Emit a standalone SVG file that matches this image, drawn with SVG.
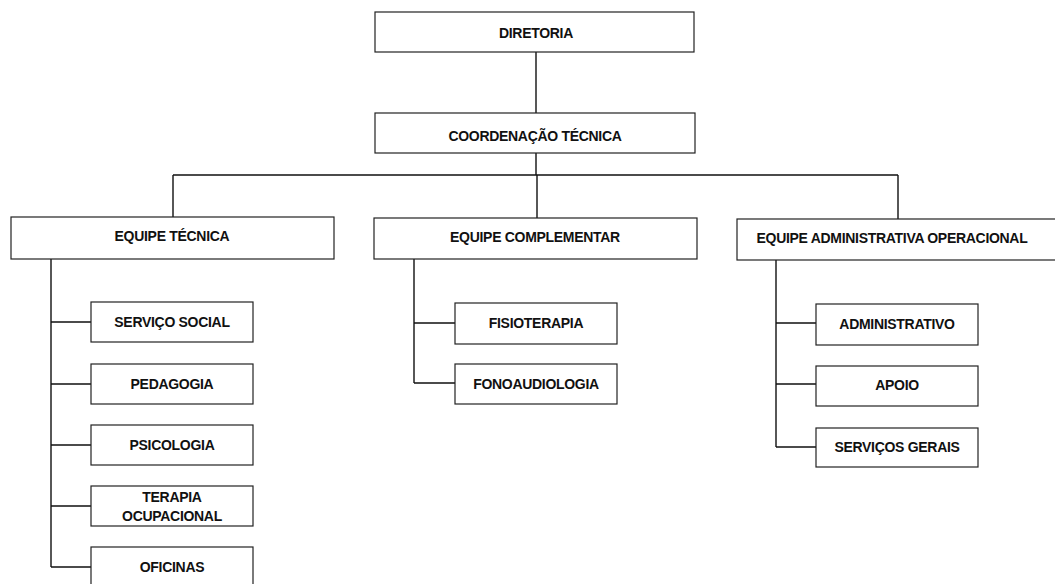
<svg xmlns="http://www.w3.org/2000/svg" width="1055" height="584" viewBox="0 0 1055 584">
<style>
.box{fill:#fff;stroke:#222;stroke-width:1.2}
.t{font-family:"Liberation Sans",Arial,sans-serif;font-weight:bold;font-size:14px;fill:#111;text-anchor:middle;letter-spacing:-0.3px}
.c{fill:none;stroke:#111;stroke-width:1.4}
</style>
<rect width="1055" height="584" fill="#fff"/>
<g id="connectors">
<path class="c" d="M536 52V113"/>
<path class="c" d="M536 153V175M173 175H898M173 175V217M537 175V218M898 175V219"/>
<path class="c" d="M51 259V567M51 322H91M51 384H91M51 445H91M51 506H91M51 567H91"/>
<path class="c" d="M414 259V383M414 323H455M414 383H455"/>
<path class="c" d="M776 260V447M776 323H816M776 384H816M776 447H816"/>
</g>
<g id="diretoria"><rect class="box" x="375" y="12" width="319" height="40"/><text class="t" x="536" y="38">DIRETORIA</text></g>
<g id="coordenacao"><rect class="box" x="375" y="113" width="320" height="40"/><text class="t" x="535" y="141">COORDENAÇÃO TÉCNICA</text></g>
<g id="equipe-tecnica"><rect class="box" x="11" y="217" width="323" height="42"/><text class="t" x="172" y="241">EQUIPE TÉCNICA</text></g>
<g id="equipe-complementar"><rect class="box" x="374" y="218" width="323" height="41"/><text class="t" x="535" y="242">EQUIPE COMPLEMENTAR</text></g>
<g id="equipe-administrativa"><rect class="box" x="737" y="219" width="330" height="41"/><text class="t" x="892" y="243">EQUIPE ADMINISTRATIVA OPERACIONAL</text></g>
<g id="servico-social"><rect class="box" x="91" y="302" width="162" height="40"/><text class="t" x="172" y="327">SERVIÇO SOCIAL</text></g>
<g id="pedagogia"><rect class="box" x="91" y="364" width="162" height="40"/><text class="t" x="172" y="389">PEDAGOGIA</text></g>
<g id="psicologia"><rect class="box" x="91" y="425" width="162" height="40"/><text class="t" x="172" y="450">PSICOLOGIA</text></g>
<g id="terapia-ocupacional"><rect class="box" x="91" y="486" width="162" height="40"/><text class="t" x="172" y="502">TERAPIA</text><text class="t" x="172" y="521">OCUPACIONAL</text></g>
<g id="oficinas"><rect class="box" x="91" y="547" width="162" height="45"/><text class="t" x="172" y="572">OFICINAS</text></g>
<g id="fisioterapia"><rect class="box" x="455" y="303" width="162" height="41"/><text class="t" x="536" y="328">FISIOTERAPIA</text></g>
<g id="fonoaudiologia"><rect class="box" x="455" y="364" width="162" height="40"/><text class="t" x="536" y="389">FONOAUDIOLOGIA</text></g>
<g id="administrativo"><rect class="box" x="816" y="304" width="162" height="41"/><text class="t" x="897" y="329">ADMINISTRATIVO</text></g>
<g id="apoio"><rect class="box" x="816" y="366" width="162" height="40"/><text class="t" x="897" y="390">APOIO</text></g>
<g id="servicos-gerais"><rect class="box" x="816" y="428" width="162" height="39"/><text class="t" x="897" y="452">SERVIÇOS GERAIS</text></g>
</svg>
